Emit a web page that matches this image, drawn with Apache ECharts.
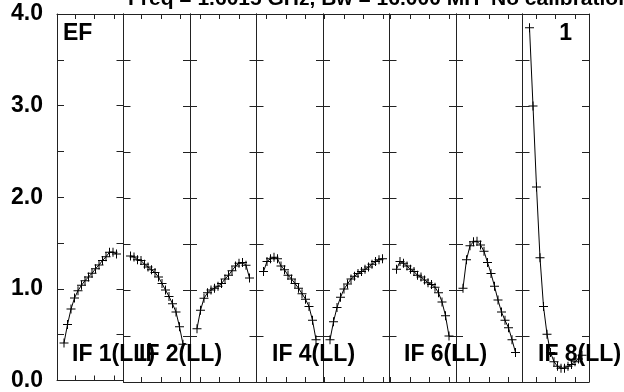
<!DOCTYPE html>
<html>
<head>
<meta charset="utf-8">
<script src="https://cdn.jsdelivr.net/npm/echarts@6/dist/echarts.min.js"></script>
<style>
html,body{margin:0;padding:0;background:#fff;}
#chart{width:624px;height:392px;}
</style>
</head>
<body>
<div id="chart"></div>
<script>
// ---- data ----
const titleText = 'Freq = 1.6015 GHz, Bw = 16.000 MH  No calibration';
const panelLabels = ['IF 1(LL)', 'IF 2(LL)', '', 'IF 4(LL)', '', 'IF 6(LL)', '', 'IF 8(LL)'];
const channels = [1, 2, 3, 4, 5, 6, 7, 8, 9, 10, 11, 12, 13, 14, 15, 16];
const if1 = [0.41, 0.61, 0.78, 0.90, 0.98, 1.04, 1.09, 1.13, 1.17, 1.22, 1.26, 1.31, 1.35, 1.40, 1.40, 1.38];
const if2 = [1.37, 1.36, 1.33, 1.32, 1.28, 1.25, 1.22, 1.19, 1.14, 1.07, 1.00, 0.93, 0.85, 0.76, 0.60, 0.41];
const if3 = [0.58, 0.78, 0.91, 0.97, 1.00, 1.02, 1.04, 1.07, 1.12, 1.16, 1.21, 1.26, 1.29, 1.30, 1.27, 1.13];
const if4 = [1.20, 1.31, 1.34, 1.355, 1.34, 1.26, 1.22, 1.16, 1.12, 1.07, 1.02, 0.96, 0.90, 0.82, 0.67, 0.46];
const if5 = [0.46, 0.655, 0.81, 0.92, 1.01, 1.065, 1.12, 1.15, 1.18, 1.20, 1.225, 1.25, 1.28, 1.31, 1.33, 1.34];
const if6 = [1.225, 1.31, 1.29, 1.26, 1.225, 1.20, 1.16, 1.14, 1.11, 1.08, 1.06, 1.03, 0.97, 0.87, 0.72, 0.50];
const if7 = [1.02, 1.33, 1.48, 1.525, 1.53, 1.49, 1.42, 1.30, 1.18, 1.04, 0.89, 0.76, 0.67, 0.59, 0.46, 0.32];
const if8 = [3.85, 3.00, 2.12, 1.35, 0.82, 0.52, 0.32, 0.22, 0.17, 0.15, 0.15, 0.17, 0.19, 0.22, 0.25, 0.29];
const ifValues = [if1, if2, if3, if4, if5, if6, if7, if8];
// first x tick of each panel (channel units) and tick step
const xTickStart = [4.14, 4.2, 1.86, 1.86, -0.57, -0.71, 2.85, 2.8];
const xTickStep = 5.57;
const yLabelValues = [0, 1, 2, 3, 4];

// ---- layout ----
const FAMILY = '"Liberation Sans", Arial, sans-serif';
const FONT = 'bold 23px ' + FAMILY;
const TITLE_FONT = 'bold 21px ' + FAMILY;
const plotLeft = 57, plotRight = 589, plotTop = 14, plotBottom = 382;
const nP = ifValues.length;
const pw = (plotRight - plotLeft) / nP;
const lineCol = '#222';
const plus = 'path://M4,0H5V4H9V5H5V9H4V5H0V4H4Z';

const grids = [], xAxes = [], yAxes = [], series = [], graphics = [];
for (let i = 0; i < nP; i++) {
  grids.push({left: plotLeft + i * pw, top: plotTop, width: pw, height: plotBottom - plotTop});
  const ticks = [];
  for (let t = xTickStart[i]; t < 18; t += xTickStep) if (t > -1) ticks.push(t);
  ['bottom', 'top'].forEach(pos => xAxes.push({
    gridIndex: i, type: 'value', min: -1, max: 18, position: pos,
    axisLine: {show: true, onZero: false, lineStyle: {color: lineCol, width: 1}},
    axisTick: {show: true, inside: true, length: 5, customValues: ticks, lineStyle: {color: lineCol}},
    axisLabel: {show: false}, splitLine: {show: false}
  }));
  ['left', 'right'].forEach(pos => yAxes.push({
    gridIndex: i, type: 'value', min: 0, max: 4, interval: 0.5, position: pos,
    axisLine: {show: true, onZero: false, lineStyle: {color: lineCol, width: 1}},
    axisTick: {show: true, inside: true, length: 7, lineStyle: {color: lineCol}},
    axisLabel: {
      show: i === 0 && pos === 'left', margin: 14,
      fontSize: 23, fontWeight: 'bold', fontFamily: FAMILY, color: '#000',
      formatter: v => (yLabelValues.indexOf(v) >= 0 ? v.toFixed(1) : '')
    },
    splitLine: {show: false}
  }));
  series.push({
    type: 'line', xAxisIndex: 2 * i, yAxisIndex: 2 * i,
    data: channels.map((c, k) => [c, ifValues[i][k]]),
    symbol: plus, symbolSize: 9, symbolKeepAspect: true,
    itemStyle: {color: '#000'},
    lineStyle: {color: '#000', width: 1},
    animation: false, silent: true
  });
}

const labelX = [72, 139, null, 272, null, 404, null, 538];
panelLabels.forEach((t, i) => {
  if (!t) return;
  graphics.push({type: 'text', x: labelX[i], y: 355, z: 100,
    style: {text: t, font: FONT, fill: '#000', align: 'left', verticalAlign: 'middle'}});
});
graphics.push({type: 'text', x: 63, y: 34, z: 100,
  style: {text: 'EF', font: FONT, fill: '#000', align: 'left', verticalAlign: 'middle'}});
graphics.push({type: 'text', x: 572, y: 34, z: 100,
  style: {text: '1', font: FONT, fill: '#000', align: 'right', verticalAlign: 'middle'}});
graphics.push({type: 'text', x: 128, y: -0.5, z: 100,
  style: {text: titleText, font: TITLE_FONT, fill: '#000', align: 'left', verticalAlign: 'middle'}});

const chart = echarts.init(document.getElementById('chart'), null, {renderer: 'canvas'});
chart.setOption({
  animation: false,
  backgroundColor: '#fff',
  grid: grids, xAxis: xAxes, yAxis: yAxes, series: series, graphic: graphics
});
</script>
</body>
</html>
